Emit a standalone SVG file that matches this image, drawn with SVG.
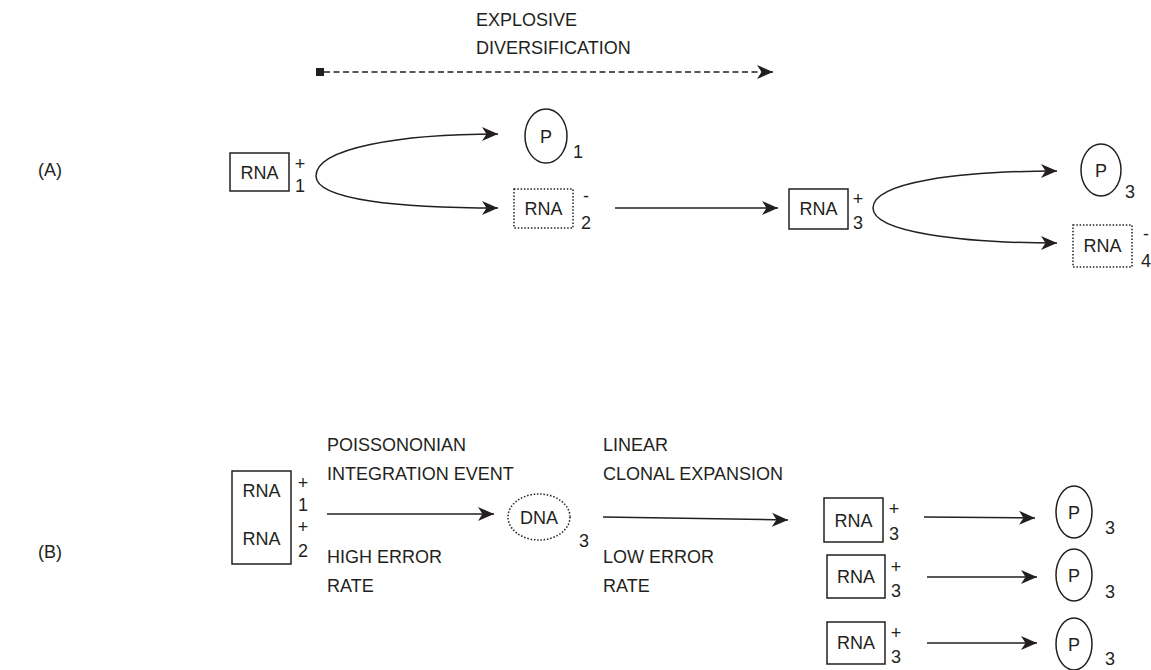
<svg xmlns="http://www.w3.org/2000/svg" width="1151" height="670" viewBox="0 0 1151 670">
<style>
.t{font-family:"Liberation Sans",Arial,sans-serif;font-size:18px;fill:#231f20}
.m{text-anchor:middle}
.box{fill:none;stroke:#231f20;stroke-width:1.5}
.dot{fill:none;stroke:#231f20;stroke-width:1.5;stroke-dasharray:1.5 1.8}
.ln{fill:none;stroke:#231f20;stroke-width:1.5}
.ar{marker-end:url(#ah)}
</style>
<defs>
<marker id="ah" markerUnits="userSpaceOnUse" markerWidth="17" markerHeight="15" refX="16" refY="7.5" orient="auto">
<path d="M0,0.5 L16,7.5 L0,14.5 L4.5,7.5 Z" fill="#231f20"/>
</marker>
</defs>
<rect width="1151" height="670" fill="#fff"/>

<g id="connectors">
<path class="ln" d="M324,72 L773,72" stroke-dasharray="6 3.5" marker-end="url(#ah)"/>
<rect x="316" y="68" width="8" height="8" fill="#231f20"/>
<path class="ln ar" d="M316,176 C316,148 400,134 498,134"/>
<path class="ln ar" d="M316,176 C316,200 400,208 498,208"/>
<path class="ln ar" d="M615,208 L778,208"/>
<path class="ln ar" d="M873,208 C873,182 960,171 1057,171"/>
<path class="ln ar" d="M873,208 C873,232 960,243 1057,243"/>
<path class="ln ar" d="M327,514 L494,514"/>
<path class="ln ar" d="M603,517 L788,520"/>
<path class="ln ar" d="M924,517 L1035,518"/>
<path class="ln ar" d="M927,577 L1037,577"/>
<path class="ln ar" d="M927,643 L1037,643"/>
</g>

<g id="labels">
<text class="t" x="476" y="26">EXPLOSIVE</text>
<text class="t" x="476" y="54">DIVERSIFICATION</text>
<text class="t" x="38" y="176">(A)</text>
<text class="t" x="38" y="558">(B)</text>
<text class="t" x="327" y="451">POISSONONIAN</text>
<text class="t" x="327" y="480">INTEGRATION EVENT</text>
<text class="t" x="327" y="563">HIGH ERROR</text>
<text class="t" x="327" y="592">RATE</text>
<text class="t" x="603" y="451">LINEAR</text>
<text class="t" x="603" y="480">CLONAL EXPANSION</text>
<text class="t" x="603" y="563">LOW ERROR</text>
<text class="t" x="603" y="592">RATE</text>
</g>

<g id="rna1">
<rect class="box" x="230" y="153" width="59" height="38"/>
<text class="t m" x="259.5" y="179">RNA</text>
<text class="t m" x="300" y="170">+</text>
<text class="t m" x="300" y="192">1</text>
</g>
<g id="p1">
<ellipse class="box" cx="546" cy="136" rx="21" ry="27"/>
<text class="t m" x="546" y="143">P</text>
<text class="t m" x="578" y="158">1</text>
</g>
<g id="rna2">
<rect class="dot" x="514" y="189" width="59" height="39"/>
<text class="t m" x="543.5" y="215">RNA</text>
<text class="t m" x="586" y="202">-</text>
<text class="t m" x="586" y="229">2</text>
</g>
<g id="rna3">
<rect class="box" x="789" y="189" width="59" height="40"/>
<text class="t m" x="818.5" y="215">RNA</text>
<text class="t m" x="858" y="205">+</text>
<text class="t m" x="858" y="229">3</text>
</g>
<g id="p3">
<ellipse class="box" cx="1101" cy="170" rx="20" ry="26"/>
<text class="t m" x="1101" y="177">P</text>
<text class="t m" x="1130" y="198">3</text>
</g>
<g id="rna4">
<rect class="dot" x="1073" y="225" width="59" height="42"/>
<text class="t m" x="1102.5" y="252">RNA</text>
<text class="t m" x="1146" y="240">-</text>
<text class="t m" x="1146" y="267">4</text>
</g>

<g id="rna12">
<rect class="box" x="232" y="471" width="59" height="93"/>
<text class="t m" x="261.5" y="497">RNA</text>
<text class="t m" x="261.5" y="545">RNA</text>
<text class="t m" x="303" y="489">+</text>
<text class="t m" x="303" y="511">1</text>
<text class="t m" x="303" y="533">+</text>
<text class="t m" x="303" y="557">2</text>
</g>
<g id="dna3">
<ellipse class="dot" cx="539" cy="517" rx="31" ry="23"/>
<text class="t m" x="539" y="524">DNA</text>
<text class="t m" x="584" y="547">3</text>
</g>

<g id="rna3a">
<rect class="box" x="824" y="498" width="59" height="44"/>
<text class="t m" x="853.5" y="527">RNA</text>
<text class="t m" x="894" y="515">+</text>
<text class="t m" x="894" y="540">3</text>
</g>
<g id="rna3b">
<rect class="box" x="827" y="555" width="58" height="43"/>
<text class="t m" x="856" y="583">RNA</text>
<text class="t m" x="896" y="573">+</text>
<text class="t m" x="896" y="597">3</text>
</g>
<g id="rna3c">
<rect class="box" x="827" y="622" width="58" height="42"/>
<text class="t m" x="856" y="649">RNA</text>
<text class="t m" x="896" y="639">+</text>
<text class="t m" x="896" y="663">3</text>
</g>
<g id="p3a">
<ellipse class="box" cx="1074" cy="512" rx="18" ry="26"/>
<text class="t m" x="1074" y="519">P</text>
<text class="t m" x="1110" y="534">3</text>
</g>
<g id="p3b">
<ellipse class="box" cx="1074" cy="575" rx="18" ry="26"/>
<text class="t m" x="1074" y="582">P</text>
<text class="t m" x="1110" y="598">3</text>
</g>
<g id="p3c">
<ellipse class="box" cx="1074" cy="644" rx="18" ry="26"/>
<text class="t m" x="1074" y="651">P</text>
<text class="t m" x="1110" y="665">3</text>
</g>
</svg>
